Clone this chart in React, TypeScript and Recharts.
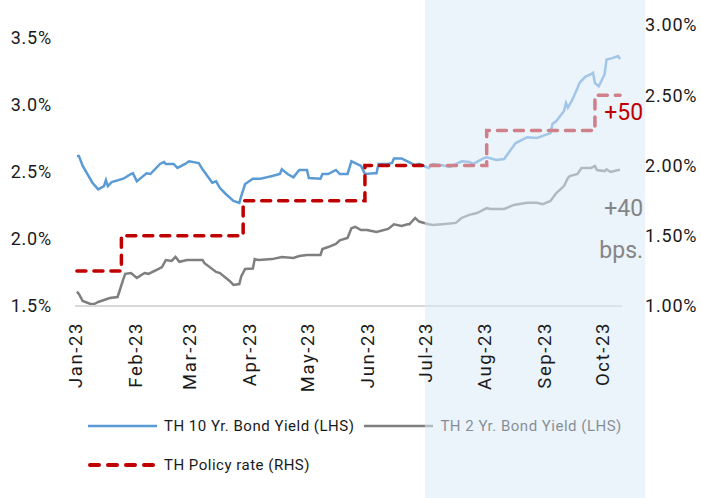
import React from 'react';
import { LineChart, Line, XAxis, YAxis, ReferenceArea, ReferenceDot, Legend } from 'recharts';

const monthNames = ['Jan', 'Feb', 'Mar', 'Apr', 'May', 'Jun', 'Jul', 'Aug', 'Sep', 'Oct', 'Nov', 'Dec'];
const monthTicks = ['01-01', '02-01', '03-01', '04-01', '05-01', '06-01', '07-01', '08-01', '09-01', '10-01'];

const tenYearDates = [
  '01-02', '01-03', '01-05', '01-10', '01-13', '01-16', '01-17', '01-18', '01-20', '01-26', '01-30', '01-31',
  '02-02', '02-07', '02-09', '02-14', '02-16', '02-17', '02-21', '02-23', '02-27', '03-01', '03-06', '03-08',
  '03-13', '03-15', '03-17', '03-20', '03-24', '03-27', '03-28', '03-30', '03-31', '04-03', '04-07', '04-10',
  '04-13', '04-17', '04-18', '04-21', '04-24', '04-27', '05-01', '05-02', '05-08', '05-09', '05-12', '05-16',
  '05-18', '05-22', '05-24', '05-26', '05-29', '05-31', '06-05', '06-06', '06-07', '06-12', '06-14', '06-15',
  '06-19', '06-22', '06-26', '06-28', '07-03', '07-05', '07-10', '07-14', '07-20', '07-24', '07-26', '07-31',
  '08-02', '08-07', '08-11', '08-14', '08-17', '08-21', '08-23', '08-28', '08-31', '09-04', '09-05', '09-07',
  '09-11', '09-12', '09-13', '09-15', '09-18', '09-19', '09-20', '09-22', '09-25', '09-26', '09-27', '09-29',
  '10-02', '10-03', '10-06', '10-09', '10-10',
];
const tenYearYield = [
  2.62, 2.62, 2.545, 2.42, 2.37, 2.395, 2.44, 2.395, 2.425, 2.45, 2.485, 2.49,
  2.43, 2.49, 2.485, 2.56, 2.575, 2.56, 2.56, 2.53, 2.56, 2.58, 2.567, 2.52,
  2.42, 2.43, 2.38, 2.336, 2.284, 2.27, 2.32, 2.41, 2.42, 2.45, 2.45, 2.46,
  2.47, 2.485, 2.52, 2.485, 2.46, 2.515, 2.515, 2.455, 2.45, 2.485, 2.485, 2.515,
  2.485, 2.485, 2.58, 2.567, 2.545, 2.485, 2.49, 2.49, 2.56, 2.56, 2.567, 2.6,
  2.6, 2.58, 2.55, 2.56, 2.53, 2.56, 2.55, 2.537, 2.58, 2.575, 2.56, 2.6,
  2.61, 2.59, 2.597, 2.657, 2.716, 2.746, 2.76, 2.754, 2.77, 2.79, 2.858, 2.88,
  2.955, 3.015, 2.98, 3.03, 3.127, 3.164, 3.18, 3.21, 3.23, 3.24, 3.164, 3.14,
  3.23, 3.34, 3.35, 3.366, 3.343,
];

const twoYearDates = [
  '01-02', '01-03', '01-05', '01-09', '01-11', '01-13', '01-16', '01-19', '01-23', '01-24', '01-26', '01-27',
  '01-30', '02-02', '02-06', '02-08', '02-13', '02-15', '02-17', '02-20', '02-22', '02-24', '02-28', '03-06',
  '03-08', '03-09', '03-15', '03-17', '03-22', '03-24', '03-27', '03-28', '03-30', '04-03', '04-04', '04-06',
  '04-13', '04-18', '04-24', '04-27', '05-01', '05-08', '05-09', '05-12', '05-16', '05-18', '05-22', '05-24',
  '05-26', '05-29', '06-01', '06-06', '06-12', '06-15', '06-19', '06-22', '06-23', '06-26', '06-28', '07-03',
  '07-05', '07-10', '07-17', '07-20', '07-24', '07-28', '08-02', '08-04', '08-11', '08-16', '08-23', '08-28',
  '08-31', '09-04', '09-07', '09-11', '09-13', '09-14', '09-18', '09-20', '09-25', '09-27', '09-28', '10-02',
  '10-03', '10-05', '10-09', '10-10',
];
const twoYearYield = [
  1.607, 1.59, 1.537, 1.515, 1.515, 1.53, 1.545, 1.56, 1.567, 1.61, 1.7, 1.74,
  1.746, 1.71, 1.746, 1.74, 1.776, 1.79, 1.843, 1.836, 1.866, 1.83, 1.843, 1.843,
  1.843, 1.82, 1.754, 1.746, 1.687, 1.657, 1.664, 1.72, 1.776, 1.78, 1.85, 1.843,
  1.85, 1.866, 1.858, 1.873, 1.88, 1.88, 1.925, 1.94, 1.963, 1.99, 2.007, 2.08,
  2.09, 2.067, 2.067, 2.052, 2.075, 2.11, 2.097, 2.11, 2.11, 2.157, 2.13, 2.11,
  2.104, 2.11, 2.12, 2.157, 2.18, 2.194, 2.23, 2.224, 2.224, 2.254, 2.27, 2.27,
  2.26, 2.284, 2.343, 2.395, 2.455, 2.47, 2.485, 2.53, 2.53, 2.545, 2.515, 2.507,
  2.52, 2.5, 2.515, 2.515,
];

const policyDates = ['01-02', '01-25', '03-29', '05-31', '08-02', '09-27', '10-10'];
const policyRate = [1.25, 1.5, 1.75, 2.0, 2.25, 2.5, 2.5];

const leftTicks = [1.5, 2.0, 2.5, 3.0, 3.5];
const rightTicks = [1.0, 1.5, 2.0, 2.5, 3.0];

const axisStart = '01-01';
const axisEnd = '10-11';
const shadeStart = '07-01';
const shadeEnd = '10-23';

const notes = [
  { date: '10-10', value: 2.38, text: '+50', color: '#c00000' },
  { date: '10-10', value: 1.7, text: '+40', color: '#858585' },
  { date: '10-10', value: 1.4, text: 'bps.', color: '#858585' },
];

const toTime = (md: string) => Date.parse(`2023-${md}`);
const zip = (dates: string[], values: number[]) => dates.map((d, i) => ({ t: toTime(d), v: values[i] }));

const tenYearData = zip(tenYearDates, tenYearYield);
const twoYearData = zip(twoYearDates, twoYearYield);
const policyData = zip(policyDates, policyRate);

const TEXT = '#1a1a1a';
const FONT = 'Roboto, sans-serif';
const POLICY_NAME = 'TH Policy rate (RHS)';

function MonthTick({ x, y, payload }: any) {
  const d = new Date(payload.value);
  const label = `${monthNames[d.getUTCMonth()]}-${String(d.getUTCFullYear()).slice(2)}`;
  return (
    <text
      transform={`translate(${x},${y}) rotate(-90)`}
      textAnchor="end"
      dy="0.36em"
      fill={TEXT}
      fontSize={18.5}
      letterSpacing={1.6}
    >
      {label}
    </text>
  );
}

function LegendBox({ payload }: any) {
  const items: any[] = payload ?? [];
  const entry = (it: any, first: boolean) => {
    const dashed = it.value === POLICY_NAME;
    return (
      <div key={it.value} style={{ display: 'flex', alignItems: 'center', marginLeft: first ? 0 : 10 }}>
        <svg width={69} height={8} style={{ display: 'block' }}>
          <line
            x1={dashed ? 2 : 0}
            y1={4}
            x2={dashed ? 67 : 69}
            y2={4}
            stroke={it.color}
            strokeWidth={dashed ? 4 : 2.5}
            strokeDasharray={dashed ? '9 9' : undefined}
            strokeLinecap={dashed ? 'round' : 'butt'}
          />
        </svg>
        <span style={{ marginLeft: 7 }}>{it.value}</span>
      </div>
    );
  };
  return (
    <div style={{ height: 84, paddingLeft: 88, boxSizing: 'border-box', fontSize: 15, letterSpacing: 0.5, color: TEXT, fontFamily: FONT }}>
      <div style={{ display: 'flex', height: 24, alignItems: 'center' }}>
        {items.slice(0, 2).map((it, i) => entry(it, i === 0))}
      </div>
      <div style={{ display: 'flex', height: 24, alignItems: 'center', marginTop: 15 }}>
        {items.slice(2).map((it) => entry(it, true))}
      </div>
    </div>
  );
}

const noteLabel = (text: string, color: string) => (props: any) => {
  const vb = props.viewBox || {};
  return (
    <text
      x={(vb.x ?? 0) + (vb.width ?? 0) / 2 + 23}
      y={(vb.y ?? 0) + (vb.height ?? 0) / 2}
      dy="0.36em"
      textAnchor="end"
      fill={color}
      fontSize={23}
      fontFamily={FONT}
    >
      {text}
    </text>
  );
};

function ShadeRect(props: any) {
  return <rect x={props.x} y={0} width={props.width} height={498} fill="#dbe9f8" fillOpacity={0.55} />;
}

export default function App() {
  return (
    <div
      style={{
        position: 'absolute',
        left: 0,
        top: 0,
        width: 701,
        height: 498,
        background: '#fff',
        zIndex: 0,
        fontFamily: FONT,
      }}
    >
      <LineChart width={701} height={498} margin={{ top: 25, right: 0, bottom: 0, left: 0 }}>
        <YAxis
          yAxisId="left"
          width={75}
          domain={[1.5, 3.597]}
          ticks={leftTicks}
          axisLine={false}
          tickLine={false}
          tickSize={0}
          tickMargin={23}
          tick={{ fill: TEXT, fontSize: 18, letterSpacing: 0.8 }}
          tickFormatter={(v: number) => `${v.toFixed(1)}%`}
        />
        <YAxis
          yAxisId="right"
          orientation="right"
          width={79}
          domain={[1.0, 3.0]}
          ticks={rightTicks}
          axisLine={false}
          tickLine={false}
          tickSize={0}
          tickMargin={23}
          tick={{ fill: TEXT, fontSize: 18, letterSpacing: 0.8 }}
          tickFormatter={(v: number) => `${v.toFixed(2)}%`}
        />
        <XAxis
          dataKey="t"
          type="number"
          domain={[toTime(axisStart), toTime(axisEnd)]}
          ticks={monthTicks.map(toTime)}
          interval={0}
          height={108}
          tickSize={0}
          tickMargin={16}
          tickLine={false}
          axisLine={{ stroke: '#d9d9d9', strokeWidth: 2 }}
          tick={<MonthTick />}
        />
        <Line
          yAxisId="left"
          data={tenYearData}
          dataKey="v"
          name="TH 10 Yr. Bond Yield (LHS)"
          stroke="#5b9bd5"
          strokeWidth={2.5}
          dot={false}
          activeDot={false}
          isAnimationActive={false}
        />
        <Line
          yAxisId="left"
          data={twoYearData}
          dataKey="v"
          name="TH 2 Yr. Bond Yield (LHS)"
          stroke="#7f7f7f"
          strokeWidth={2.5}
          dot={false}
          activeDot={false}
          isAnimationActive={false}
        />
        <Line
          yAxisId="right"
          type="stepAfter"
          data={policyData}
          dataKey="v"
          name={POLICY_NAME}
          stroke="#c00000"
          strokeWidth={3.5}
          strokeDasharray="9 8"
          strokeLinecap="round"
          dot={false}
          activeDot={false}
          isAnimationActive={false}
        />
        <ReferenceArea
          yAxisId="left"
          x1={toTime(shadeStart)}
          x2={toTime(shadeEnd)}
          ifOverflow="visible"
          shape={<ShadeRect />}
          zIndex={600}
        />
        {notes.map((n) => (
          <ReferenceDot
            key={n.text}
            yAxisId="right"
            x={toTime(n.date)}
            y={n.value}
            r={1}
            fill="none"
            stroke="none"
            ifOverflow="visible"
            zIndex={2100}
            label={noteLabel(n.text, n.color)}
          />
        ))}
        <Legend
          verticalAlign="bottom"
          content={<LegendBox />}
          wrapperStyle={{ left: 0, width: 701, zIndex: -1 }}
        />
      </LineChart>
    </div>
  );
}
